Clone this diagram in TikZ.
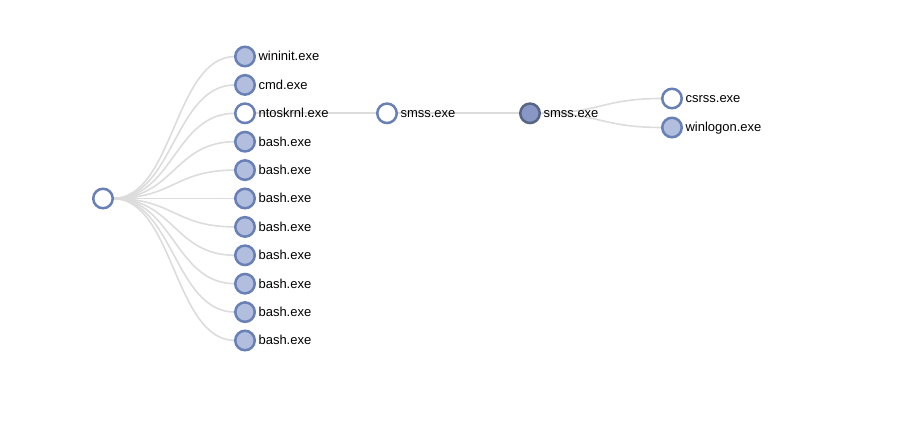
\documentclass[tikz,border=0pt]{standalone}
\usepackage{fontspec}
\setmainfont{Liberation Sans}
\usepackage{tikz}
\usetikzlibrary{calc,positioning,backgrounds}

\definecolor{ringblue}{RGB}{104,128,182}
\definecolor{fillblue}{RGB}{178,190,221}
\definecolor{darkring}{RGB}{88,102,134}
\definecolor{darkfill}{RGB}{136,151,197}
\definecolor{linkgray}{RGB}{220,220,220}

\tikzset{
  proc/.style={circle, draw=ringblue, line width=2.5pt, fill=fillblue,
    minimum size=19.5pt, inner sep=0pt, outer sep=0pt},
  leaf/.style={proc, fill=white},
  picked/.style={proc, draw=darkring, fill=darkfill},
  exe/.style={anchor=base west, inner sep=0pt, yshift=-4.4pt,
    label distance=3.6pt, font=\fontsize{13}{15}\selectfont},
  link/.style={draw=linkgray, line width=1.6pt},
  diagonal/.style={to path={.. controls ($(\tikztostart)!.5!(\tikztostart-|\tikztotarget)$)
    and ($(\tikztotarget)!.5!(\tikztotarget-|\tikztostart)$) .. (\tikztotarget)}}
}

\begin{document}
\begin{tikzpicture}[x=1pt, y=-1pt]
   \useasboundingbox (0,0) rectangle (912,441);

   \node[leaf] (root) at (103,198.5) {};

   %first level
   \node[proc] (wininit) at (245,56.5) [label={[exe]right:wininit.exe}] {};
   \node[proc] (cmd) at (245,84.9) [label={[exe]right:cmd.exe}] {};
   \node[leaf] (ntoskrnl) at (245,113.3) [label={[exe]right:ntoskrnl.exe}] {};
   \node[proc] (bash1) at (245,141.7) [label={[exe]right:bash.exe}] {};
   \node[proc] (bash2) at (245,170.1) [label={[exe]right:bash.exe}] {};
   \node[proc] (bash3) at (245,198.5) [label={[exe]right:bash.exe}] {};
   \node[proc] (bash4) at (245,226.9) [label={[exe]right:bash.exe}] {};
   \node[proc] (bash5) at (245,255.3) [label={[exe]right:bash.exe}] {};
   \node[proc] (bash6) at (245,283.7) [label={[exe]right:bash.exe}] {};
   \node[proc] (bash7) at (245,312.1) [label={[exe]right:bash.exe}] {};
   \node[proc] (bash8) at (245,340.5) [label={[exe]right:bash.exe}] {};

   %smss chain
   \node[leaf] (smss1) at (387,113.3) [label={[exe]right:smss.exe}] {};
   \node[picked] (smss2) at (530,113.3) [label={[exe]right:smss.exe}] {};
   \node[leaf] (csrss) at (672,98.5) [label={[exe]right:csrss.exe}] {};
   \node[proc] (winlogon) at (672,127.5) [label={[exe]right:winlogon.exe}] {};

  \begin{scope}[on background layer]
  \path[link]
    (root) edge[diagonal] (wininit)
           edge[diagonal] (cmd)
           edge[diagonal] (ntoskrnl)
           edge[diagonal] (bash1)
           edge[diagonal] (bash2)
           edge[diagonal] (bash3)
           edge[diagonal] (bash4)
           edge[diagonal] (bash5)
           edge[diagonal] (bash6)
           edge[diagonal] (bash7)
           edge[diagonal] (bash8)
    (ntoskrnl) edge (smss1)
    (smss1) edge (smss2)
    (smss2) edge[diagonal] (csrss)
            edge[diagonal] (winlogon);
  \end{scope}
\end{tikzpicture}
\end{document}
